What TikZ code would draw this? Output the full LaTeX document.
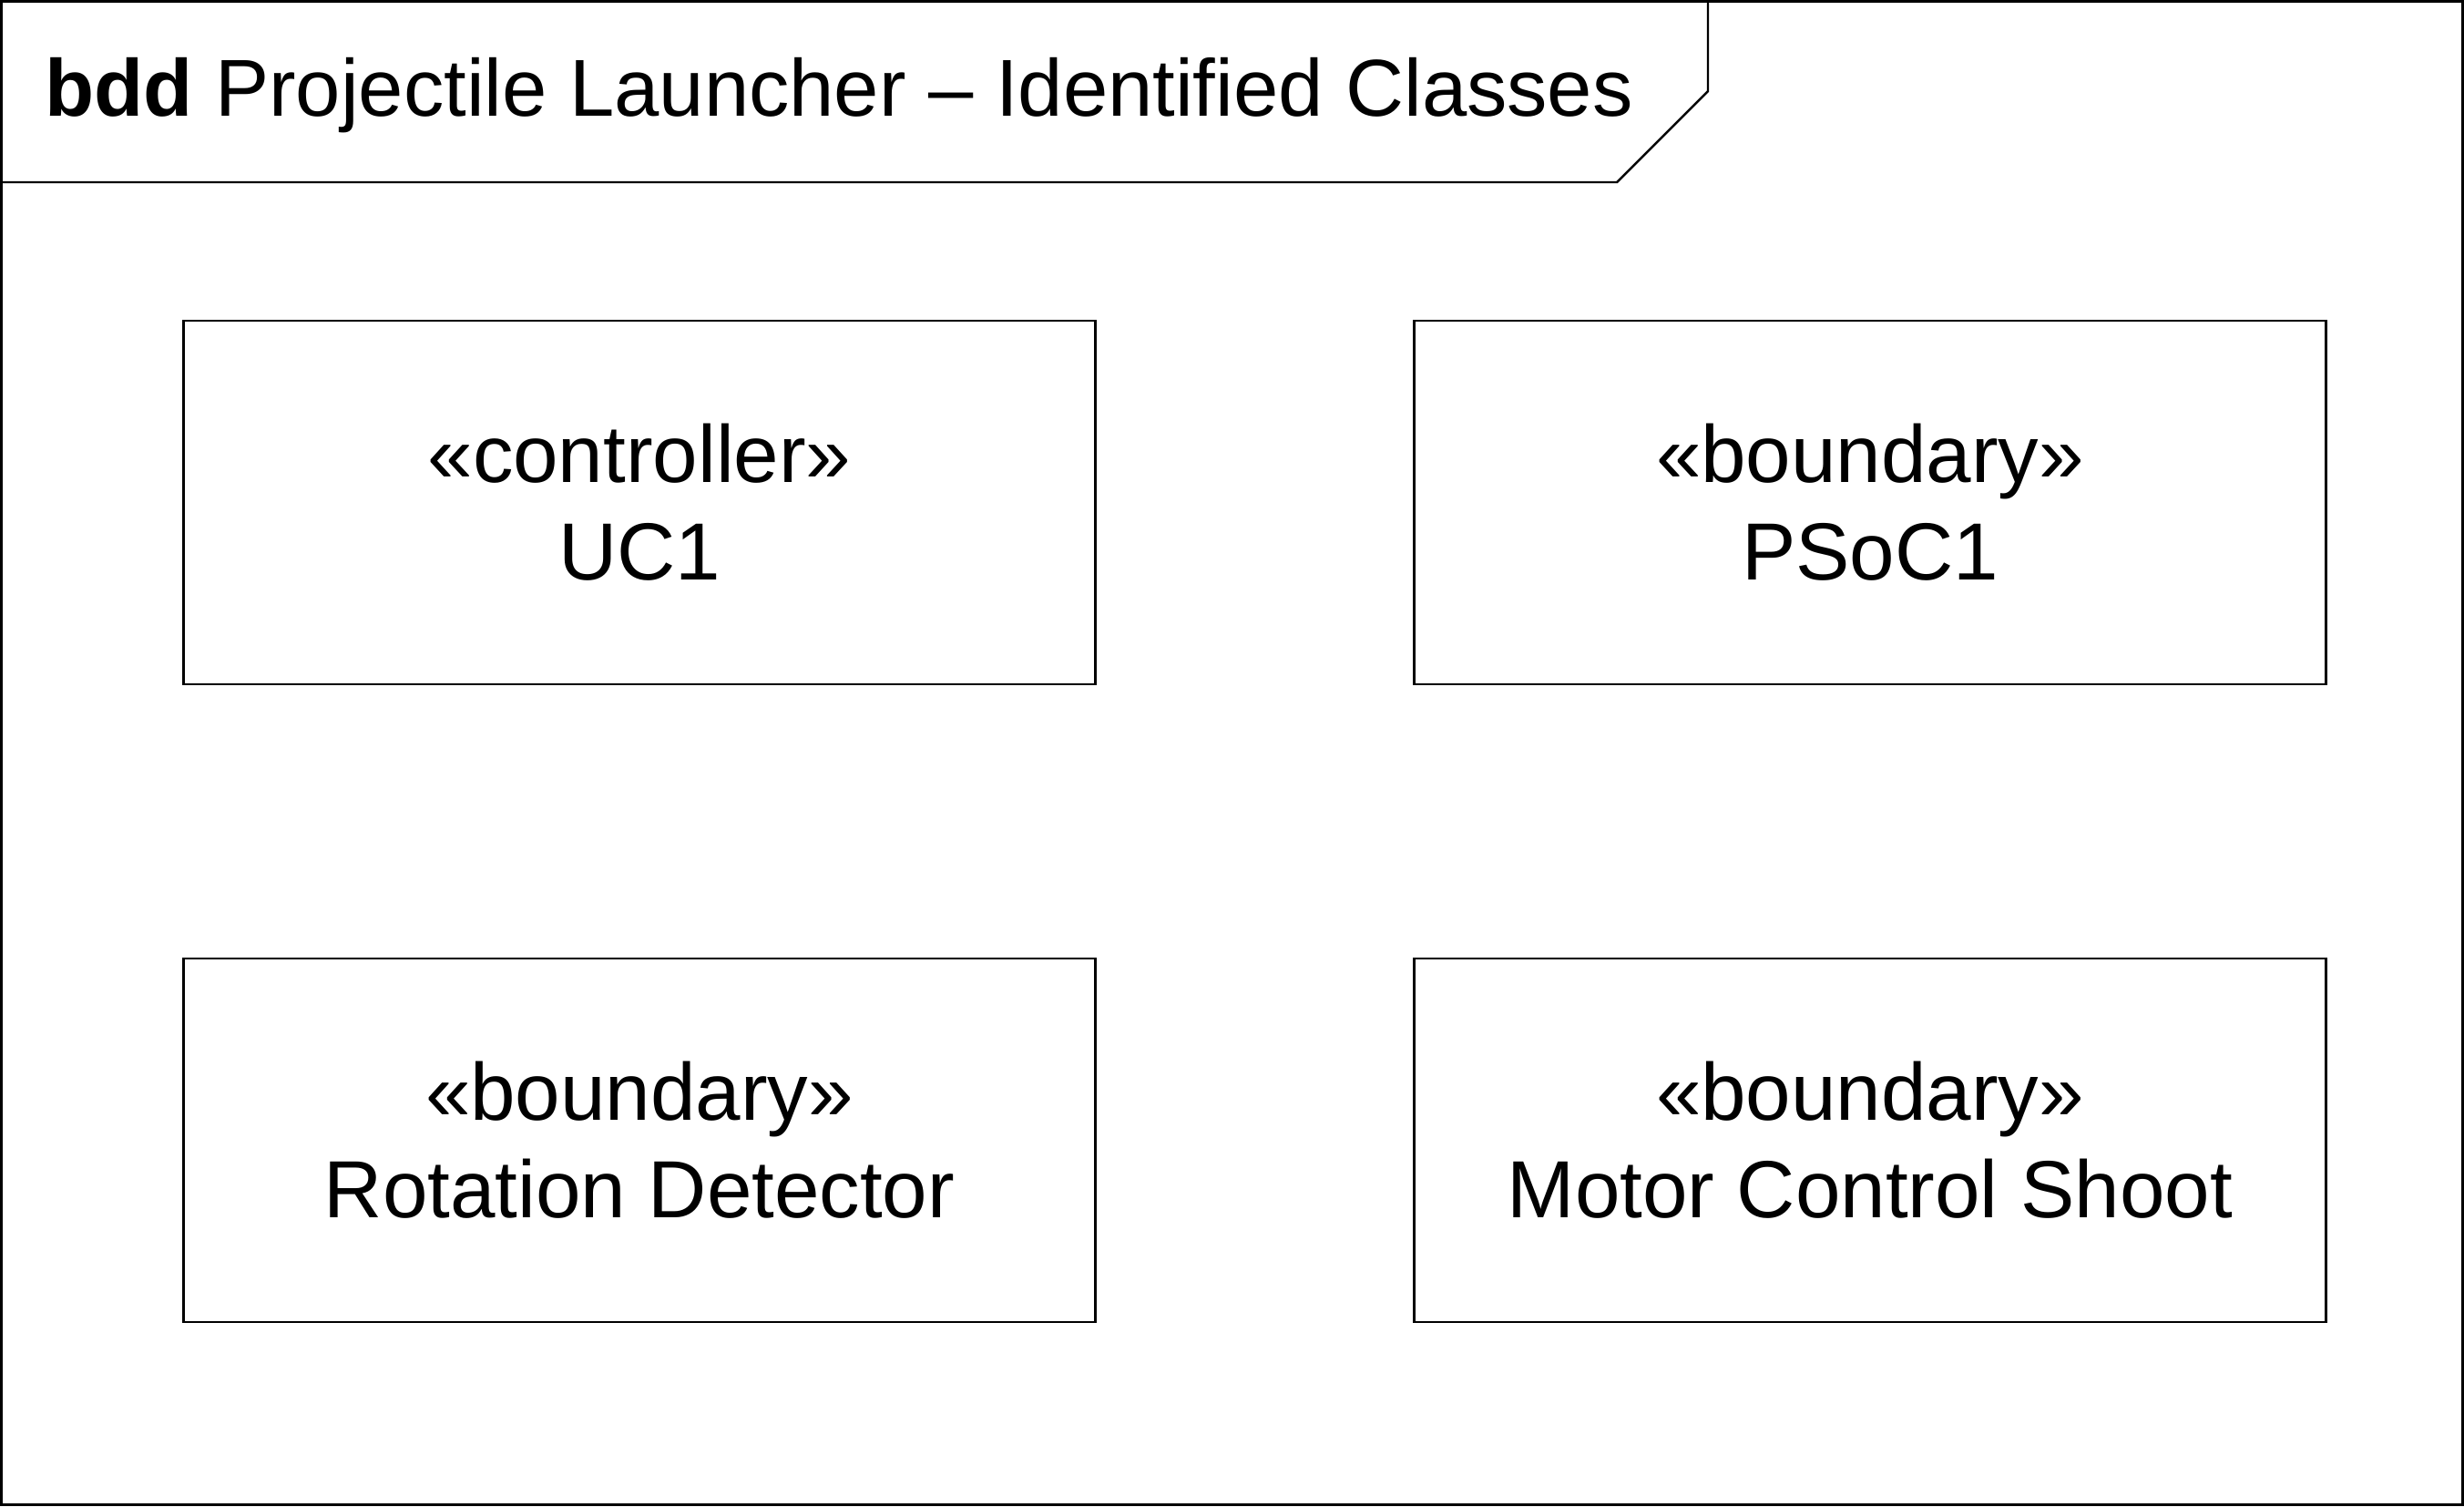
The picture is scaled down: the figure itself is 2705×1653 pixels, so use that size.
\documentclass[tikz,border=0pt]{standalone}
\usepackage{fontspec}
\setmainfont{Liberation Sans}
\begin{document}
\begin{tikzpicture}[x=0.01cm,y=-0.01cm,
  line width=0.7pt,
  classbox/.style={draw, line width=0.7pt, minimum width=10cm, minimum height=3.99cm,
     align=center, inner sep=0pt, font=\fontsize{25.3pt}{30.4pt}\selectfont},
  frameline/.style={draw, line width=0.7pt}]
\useasboundingbox (0,0) rectangle (2705,1653);
\draw[frameline] (1.5,1.5) rectangle (2703.5,1651.5);
\coordinate (t1) at (1875,1.5);
\coordinate (t2) at (1875,100);
\coordinate (t3) at (1775,200);
\coordinate (t4) at (1.5,200);
\draw[frameline] (t1) -- (t2) -- (t3) -- (t4);
\node[anchor=base west, inner sep=0pt, font=\fontsize{25.2pt}{30pt}\selectfont] (title) at (48,127)
  {\textbf{bdd} Projectile Launcher – Identified Classes};
\node[classbox] (uc1) at (702,551.5) {«controller»\\UC1};
\node[classbox] (psoc) at (2053,551.5) {«boundary»\\PSoC1};
\node[classbox] (rot) at (702,1251.5) {«boundary»\\Rotation Detector};
\node[classbox] (motor) at (2053,1251.5) {«boundary»\\Motor Control Shoot};
\end{tikzpicture}
\end{document}
